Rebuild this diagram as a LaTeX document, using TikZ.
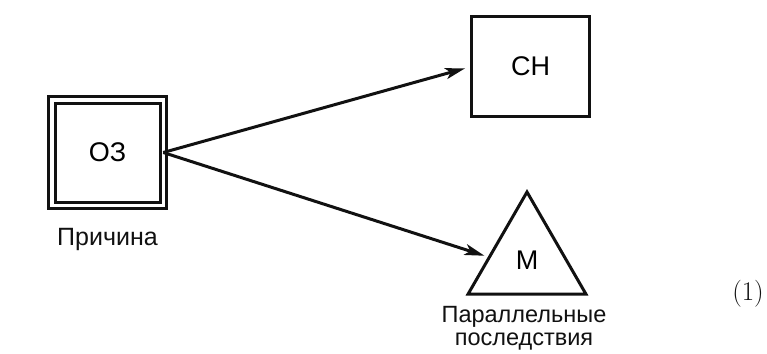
\documentclass[tikz,border=0pt]{standalone}
\usepackage{fontspec}
\newfontfamily\diagfont{Liberation Sans}
\usetikzlibrary{arrows.meta,calc,positioning,shapes.geometric}
\definecolor{Ink}{HTML}{111111}

\begin{document}
\begin{tikzpicture}[x=1pt,y=-1pt,
    box/.style={draw=Ink,line width=3pt,outer sep=0pt,font=\diagfont\fontsize{27}{32}\selectfont},
    link/.style={-{Stealth[length=20pt,width=11pt,inset=5pt]},line width=3pt,draw=Ink},
    caption/.style={inner sep=0pt,align=center,text=Ink}]
        \useasboundingbox (0,0) rectangle (767,353);

        \node[box,double,double distance=3.5pt,
          minimum width=111.5pt,minimum height=105.5pt] (oz) at (107.5,152.5) {ОЗ};
        \node[box,minimum width=118pt,minimum height=100pt] (ch) at (530.5,66.5) {СН};
        \node[box,regular polygon,regular polygon sides=3,minimum size=136pt,
          inner sep=0pt] (m) at (527,260) {М};

        \node[caption,below=23pt of oz,font=\diagfont\fontsize{25}{28}\selectfont]
          (cause) {Причина};
        \node[caption,below=12pt of m.side 2,xshift=-3pt,
          font=\diagfont\fontsize{23.5}{23}\selectfont]
          (effects) {Параллельные\\последствия};
        \node[caption,font=\fontsize{27}{30}\selectfont] (eqno) at (748,294) {(1)};

        \coordinate (mhit) at ($(m.corner 1)!0.64!(m.corner 2)$);
        \draw[link,shorten >=6.5pt] (oz.east) -- (ch.west);
        \draw[link,shorten >=5pt] (oz.east) -- (mhit);
      \end{tikzpicture}
\end{document}
